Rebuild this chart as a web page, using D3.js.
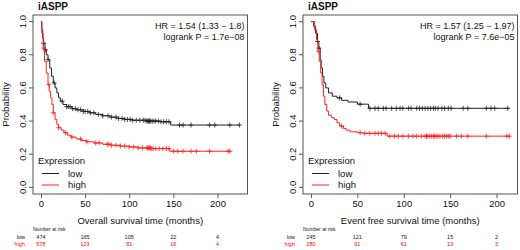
<!DOCTYPE html>
<html><head><meta charset="utf-8">
<script src="https://cdn.jsdelivr.net/npm/d3@7"></script>
<style>body{margin:0;background:#fff}svg{display:block;font-family:"Liberation Sans",Arial,sans-serif}</style>
</head><body><svg id="c" width="520" height="250"></svg>
<script>
// ---- data ----
const title = "iASPP";
const groups = ["low", "high"];
const xTicks = [0, 50, 100, 150, 200];
const yTicks = [0.0, 0.2, 0.4, 0.6, 0.8, 1.0];

// Overall survival
const osLowT = [0,1,2,3,4.5,6,8,10,12,14,16,18,20,22,25,29,35,40,48,55,62,70,78,86,95,104,120,135,147];
const osLowS = [1,0.95,0.9,0.87,0.83,0.8,0.77,0.72,0.67,0.63,0.6,0.57,0.54,0.52,0.5,0.487,0.475,0.468,0.458,0.45,0.44,0.432,0.424,0.416,0.41,0.405,0.4,0.396,0.376];
const osLowEnd = 225;
const osLowCens = [3,5,8,15,24,29,31,33,36,39,42,45,48,50,53,56,60,65,70,76,80,85,88,92,95,98,101,104,108,112,116,118,120,121,122,123,124,126,128,130,133,136,139,142,145,157,161,170,191,197,214,225];
const osHighT = [0,1,2.5,4,6,8,9.5,11,12.5,14,16,18,20,23,26,30,34,40,46,52,60,70,80,90,100,110,125,146];
const osHighS = [1,0.93,0.84,0.76,0.69,0.62,0.58,0.54,0.5,0.45,0.41,0.38,0.36,0.345,0.33,0.315,0.303,0.292,0.283,0.275,0.268,0.26,0.254,0.249,0.244,0.238,0.234,0.218];
const osHighEnd = 215;
const osHighCens = [3,9,14,20,28,35,45,52,62,66,75,77,80,85,90,95,100,105,110,115,120,121,122,123,124,125,127,130,134,138,142,145,150,155,161,170,176,191,212,214];
const osHR = "HR = 1.54 (1.33 \u2212 1.8)";
const osP = "logrank P = 1.7e\u221208";
const osXLabel = "Overall survival time (months)";
const osRiskLow = [474, 165, 105, 22, 4];
const osRiskHigh = [578, 123, 81, 16, 4];

// Event free survival
const efsLowT = [0,3,5,7,8.5,10,11,12.5,14,16,19,23,28,33,40,50,62];
const efsLowS = [1,0.97,0.93,0.88,0.84,0.77,0.72,0.67,0.63,0.6,0.57,0.55,0.54,0.525,0.515,0.502,0.477];
const efsLowEnd = 214;
const efsLowCens = [7,8.5,31,53,63.5,69,72.5,78,81,87,92,96,99,105,108,114,117,120,123,126,129,132,134,137,141,144,148,151,164,169,189,194,198,212];
const efsHighT = [0,4,6,7.5,9,10.5,12,13.5,15,17,19,22,25,28,31,35,38,42,50,56,82];
const efsHighS = [1,0.95,0.89,0.82,0.76,0.69,0.62,0.55,0.5,0.46,0.435,0.42,0.41,0.39,0.37,0.355,0.345,0.335,0.33,0.326,0.309];
const efsHighEnd = 214;
const efsHighCens = [8.5,33,53,58,63.5,69,72.5,76,80,85,90,94,99,105,110,114,119,123,124.5,126,128,130,132,133.5,135,137,139,142,144,146,148,150,157,162,169,189,211,214];
const efsHR = "HR = 1.57 (1.25 \u2212 1.97)";
const efsP = "logrank P = 7.6e\u221205";
const efsXLabel = "Event free survival time (months)";
const efsRiskLow = [245, 121, 79, 15, 2];
const efsRiskHigh = [280, 91, 61, 13, 3];

// ---- drawing ----
const colors = {low: "#222", high: "#f22"};
const svg = d3.select("#c");

function stepFn(T, S) { return t => { let s = S[0]; for (let i = 0; i < T.length; i++) if (T[i] <= t) s = S[i]; return s; }; }

function panel(off, p) {
  const g = svg.append("g").attr("transform", `translate(${off},0)`);
  const left = 33, right = 247.5, top = 15, bottom = 194;
  const maxT = Math.max(p.low.end, p.high.end);
  const x = d3.scaleLinear().domain([-0.04 * maxT, maxT * 1.04]).range([left, right]);
  const y = d3.scaleLinear().domain([-0.04, 1.04]).range([bottom, top]);

  g.append("rect").attr("x", left).attr("y", top).attr("width", right - left).attr("height", bottom - top)
    .attr("fill", "none").attr("stroke", "#555").attr("stroke-width", 1);

  const xa = g.append("g").attr("transform", `translate(0,${bottom})`)
    .call(d3.axisBottom(x).tickValues(xTicks).tickSize(4).tickPadding(2).tickFormat(d3.format("d")));
  xa.select(".domain").remove();
  xa.selectAll("line").attr("stroke", "#555");
  xa.selectAll("text").attr("font-size", 9.5).attr("fill", "#111").attr("font-family", "Liberation Sans, Arial");

  const ya = g.append("g").attr("transform", `translate(${left},0)`)
    .call(d3.axisLeft(y).tickValues(yTicks).tickSize(4).tickFormat(d3.format(".1f")));
  ya.select(".domain").remove();
  ya.selectAll("line").attr("stroke", "#555");
  ya.selectAll("text").attr("font-size", 9.5).attr("fill", "#111").attr("font-family", "Liberation Sans, Arial")
    .attr("text-anchor", "middle").attr("transform", function(d){ return `translate(${-10.5},${y(d)}) rotate(-90)`; })
    .attr("x", 0).attr("y", 0).attr("dy", "0.35em");
  ya.selectAll(".tick").attr("transform", null);
  ya.selectAll(".tick line").attr("transform", d => `translate(0,${y(d)})`);

  g.append("text").attr("x", left + 5).attr("y", 10).attr("font-size", 10).attr("font-weight", "bold").attr("fill", "#111").text(title);
  g.append("text").attr("x", 6).attr("y", (top + bottom) / 2).attr("font-size", 9.5).attr("fill", "#111")
    .attr("text-anchor", "middle").attr("dy", "0.35em").attr("transform", `rotate(-90,6,${(top + bottom) / 2})`).text("Probability");
  g.append("text").attr("x", (left + right) / 2).attr("y", 224).attr("font-size", 9.5).attr("fill", "#111")
    .attr("text-anchor", "middle").text(p.xlabel);
  g.append("text").attr("x", right - 3).attr("y", 29).attr("font-size", 9).attr("fill", "#111").attr("text-anchor", "end").text(p.hr);
  g.append("text").attr("x", right - 3).attr("y", 39.5).attr("font-size", 9).attr("fill", "#111").attr("text-anchor", "end").text(p.p);

  const line = d3.line().x(d => x(d[0])).y(d => y(d[1])).curve(d3.curveStepAfter);
  ["low", "high"].forEach(k => {
    const c = p[k];
    const pts = c.T.map((t, i) => [t, c.S[i]]);
    pts.push([c.end, c.S[c.S.length - 1]]);
    g.append("path").attr("d", line(pts)).attr("fill", "none").attr("stroke", colors[k]).attr("stroke-width", 1);
    const f = stepFn(c.T, c.S);
    g.append("g").selectAll("path").data(c.cens).join("path")
      .attr("d", d => { const cx = x(d), cy = y(f(d)); return `M${cx-2.5},${cy}H${cx+2.5}M${cx},${cy-2.5}V${cy+2.5}`; })
      .attr("stroke", colors[k]).attr("stroke-width", 0.8).attr("fill", "none");
  });

  // legend
  g.append("text").attr("x", left + 5).attr("y", 163.5).attr("font-size", 9.5).attr("fill", "#111").text("Expression");
  groups.forEach((k, i) => {
    const ly = 173.5 + i * 11.5;
    g.append("line").attr("x1", left + 9).attr("x2", left + 26).attr("y1", ly).attr("y2", ly)
      .attr("stroke", colors[k]).attr("stroke-width", 1);
    g.append("text").attr("x", left + 35).attr("y", ly).attr("dy", "0.35em").attr("font-size", 9.5).attr("fill", "#111").text(k);
  });

  // number at risk
  g.append("text").attr("x", left).attr("y", 231).attr("font-size", 5).attr("fill", "#111").text("Number at risk");
  [["low", p.riskLow], ["high", p.riskHigh]].forEach(([k, vals], i) => {
    const ry = 238.5 + i * 7.5;
    const col = k === "low" ? "#111" : "#f00";
    g.append("text").attr("x", 25).attr("y", ry).attr("font-size", 5.5).attr("fill", col).attr("text-anchor", "end").text(k);
    g.selectAll(null).data(vals).join("text").attr("x", (d, j) => x(xTicks[j])).attr("y", ry)
      .attr("font-size", 5.5).attr("fill", col).attr("text-anchor", "middle").text(d => d);
  });
}

panel(0, {low: {T: osLowT, S: osLowS, end: osLowEnd, cens: osLowCens},
          high: {T: osHighT, S: osHighS, end: osHighEnd, cens: osHighCens},
          hr: osHR, p: osP, xlabel: osXLabel, riskLow: osRiskLow, riskHigh: osRiskHigh});
panel(270, {low: {T: efsLowT, S: efsLowS, end: efsLowEnd, cens: efsLowCens},
          high: {T: efsHighT, S: efsHighS, end: efsHighEnd, cens: efsHighCens},
          hr: efsHR, p: efsP, xlabel: efsXLabel, riskLow: efsRiskLow, riskHigh: efsRiskHigh});
</script></body></html>
